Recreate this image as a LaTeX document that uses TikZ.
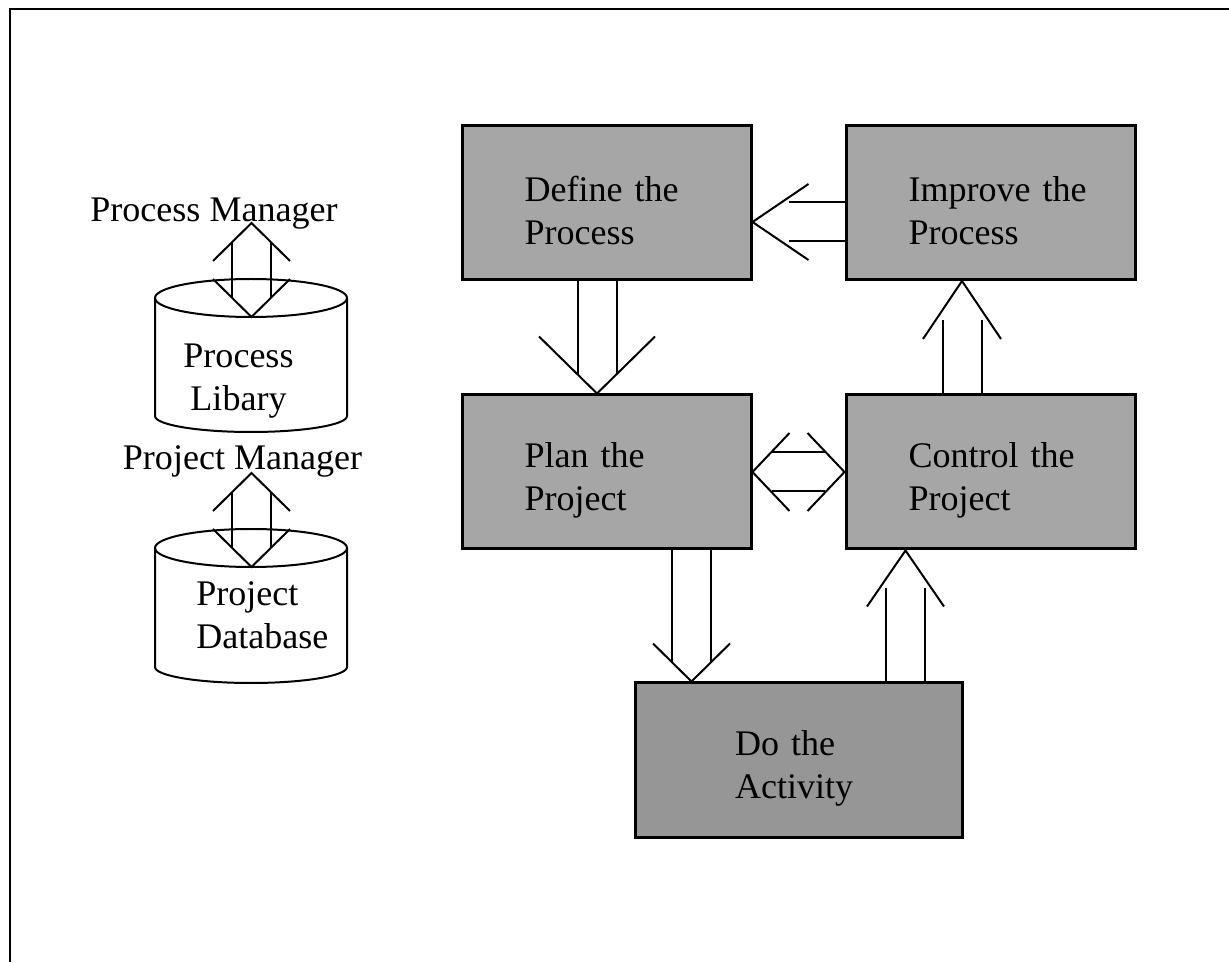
\documentclass[tikz,border=0pt]{standalone}
\usepackage{fontspec}
\setmainfont{Liberation Serif}
\usetikzlibrary{calc}

\definecolor{stagegray}{RGB}{166,166,166}
\definecolor{doactgray}{RGB}{150,150,150}

\newcommand{\shafthalf}{0.39cm}
% hollow arrow: #1 start, #2 tip, #3 head half width, #4 head length, #5 where the shaft stops
\newcommand{\blockarrow}[5]{%
  \path ($(#2)!#4!(#1)$) coordinate (hb) ($(#2)!#5!(#1)$) coordinate (sg);
  \draw[arrowline] ($(hb)!#3!90:(#2)$) -- (#2) -- ($(hb)!#3!-90:(#2)$);
  \draw[arrowline] ($(#1)!\shafthalf!90:(#2)$) -- ($(sg)!\shafthalf!90:(#2)$);
  \draw[arrowline] ($(#1)!\shafthalf!-90:(#2)$) -- ($(sg)!\shafthalf!-90:(#2)$);
}
% hollow arrow with a head at both tips #1 and #2
\newcommand{\blockarrows}[5]{%
  \path ($(#1)!#4!(#2)$) coordinate (hba) ($(#2)!#4!(#1)$) coordinate (hbb)
        ($(#1)!#5!(#2)$) coordinate (sga) ($(#2)!#5!(#1)$) coordinate (sgb);
  \draw[arrowline] ($(hba)!#3!90:(#1)$) -- (#1) -- ($(hba)!#3!-90:(#1)$);
  \draw[arrowline] ($(hbb)!#3!90:(#2)$) -- (#2) -- ($(hbb)!#3!-90:(#2)$);
  \draw[arrowline] ($(sga)!\shafthalf!90:(#2)$) -- ($(sgb)!\shafthalf!-90:(#1)$);
  \draw[arrowline] ($(sga)!\shafthalf!-90:(#2)$) -- ($(sgb)!\shafthalf!90:(#1)$);
}

\begin{document}
\begin{tikzpicture}[font=\fontsize{20.5pt}{24.5pt}\selectfont]
  % Define styles
  \tikzstyle{stage}=[rectangle, draw=black, line width=0.06cm, fill=stagegray, text width=4cm, align=left, inner xsep=0.89cm, minimum width=5.78cm, minimum height=3.08cm,
                     execute at begin node={\leftskip=0.36cm\rule{0pt}{0.84cm}}]
  \tikzstyle{arrowline}=[line width=0.04cm]
  \tikzstyle{store}=[line width=0.04cm]

  \useasboundingbox (0,0) rectangle (24.58,19.24);
  \draw[line width=0.05cm] (0.2,0) -- (0.2,19.06) -- (24.58,19.06);

  % Stages
  \node[stage] (define) at (12.13,15.19) {Define the\\Process};
  \node[stage, node distance=7.68cm, right of=define] (improve) {Improve the\\Process};
  \node[stage, node distance=5.39cm, below of=define] (plan) {Plan the\\Project};
  \node[stage, node distance=7.68cm, right of=plan] (control) {Control the\\Project};
  \node[stage, fill=doactgray, text width=3.26cm, inner xsep=1.64cm, minimum width=6.54cm,
        node distance=5.76cm, below of=plan, xshift=3.84cm] (doact) {Do the\\Activity};

  % Stores
  \draw[store] (3.10,13.28) -- (3.10,10.92) arc[start angle=180, end angle=360, x radius=1.92cm, y radius=0.32cm] -- (6.94,13.28);
  \draw[store] (5.02,13.28) ellipse [x radius=1.92cm, y radius=0.38cm];
  \draw[store] (3.10,8.28) -- (3.10,5.90) arc[start angle=180, end angle=360, x radius=1.92cm, y radius=0.32cm] -- (6.94,8.28);
  \draw[store] (5.02,8.28) ellipse [x radius=1.92cm, y radius=0.38cm];
  \coordinate (lib) at (5.03,12.90);
  \coordinate (db) at (5.03,7.90);
  \node[align=center, inner sep=0pt] (libtext) at (4.77,11.62) {Process\\Libary};
  \node[align=left, anchor=west, inner sep=0pt] (dbtext) at (3.92,6.93) {Project\\Database};

  % Managers
  \node[anchor=base, inner sep=0pt] (procman) at (4.28,14.80) {Process Manager};
  \node[anchor=base, inner sep=0pt] (projman) at (4.85,9.84) {Project Manager};

  % Flows
  \coordinate (pmtip) at ([yshift=-0.02cm]lib |- procman.base);
  \blockarrows{pmtip}{lib}{0.77cm}{0.76cm}{0.39cm}
  \coordinate (jmtip) at ([yshift=-0.06cm]db |- projman.base);
  \blockarrows{jmtip}{db}{0.77cm}{0.76cm}{0.39cm}

  \coordinate (dpa) at ([xshift=-0.19cm]define.south);
  \coordinate (dpb) at (dpa |- plan.north);
  \blockarrow{dpa}{dpb}{1.16cm}{1.14cm}{0.38cm}

  \coordinate (ida) at ([yshift=-0.39cm]improve.west);
  \coordinate (idb) at (ida -| define.east);
  \blockarrow{ida}{idb}{0.76cm}{1.12cm}{0.72cm}

  \blockarrows{plan.east}{control.west}{0.78cm}{0.74cm}{0.39cm}

  \coordinate (pdb) at ([xshift=1.16cm]doact.north west);
  \coordinate (pda) at (pdb |- plan.south);
  \blockarrow{pda}{pdb}{0.77cm}{0.76cm}{0.39cm}

  \coordinate (dca) at ([xshift=-1.16cm]doact.north east);
  \coordinate (dcb) at (dca |- control.south);
  \blockarrow{dca}{dcb}{0.77cm}{1.12cm}{0.76cm}

  \coordinate (cia) at ([xshift=-0.57cm]control.north);
  \coordinate (cib) at (cia |- improve.south);
  \blockarrow{cia}{cib}{0.78cm}{1.16cm}{0.78cm}
\end{tikzpicture}
\end{document}
